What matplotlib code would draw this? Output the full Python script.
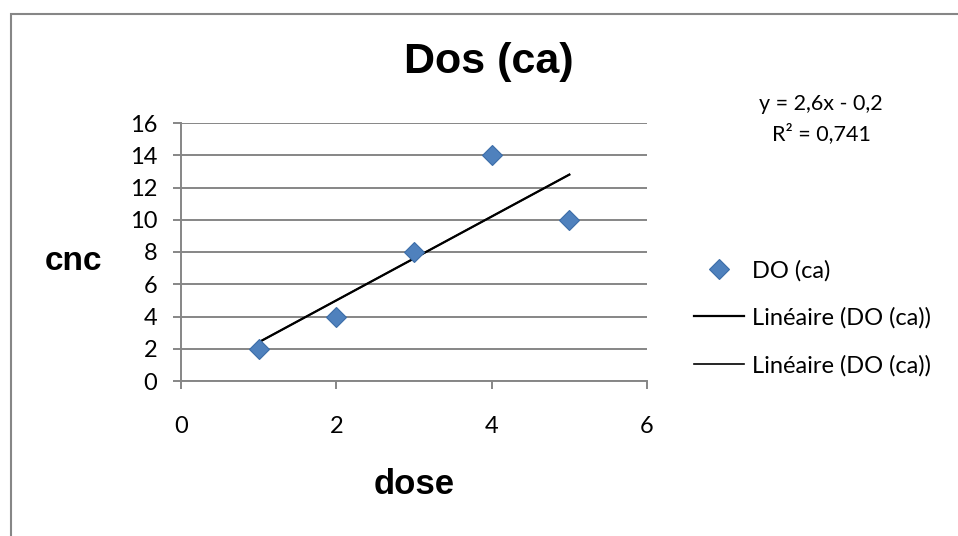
import matplotlib
matplotlib.use("Agg")
import matplotlib.pyplot as plt
import numpy as np
from matplotlib.patches import Rectangle
from matplotlib.lines import Line2D

# data
dose = [1, 2, 3, 4, 5]
cnc = [2, 4, 8, 14, 10]
slope, intercept = 2.6, -0.2
x_ticks = [0, 2, 4, 6]
y_ticks = [0, 2, 4, 6, 8, 10, 12, 14, 16]

body = ["Lato", "DejaVu Sans"]
bold = ["Liberation Sans", "DejaVu Sans"]
plt.rcParams["font.family"] = body

fig = plt.figure(figsize=(9.58, 5.36), dpi=100)

# outer chart border
fig.patches.append(Rectangle((10.5 / 958, -0.1), 1.2, 1.1 - 13.5 / 536,
                             transform=fig.transFigure, fill=False,
                             edgecolor="#868686", linewidth=1.5))

ax = fig.add_axes([181 / 958, 1 - 381 / 536, 466 / 958, 258 / 536])

ax.set_xlim(0, 6)
ax.set_ylim(0, 16)
ax.set_xticks(x_ticks)
ax.set_yticks(y_ticks)
ax.yaxis.grid(True, color="#868686", linewidth=1.4)
ax.set_axisbelow(True)
for s in ["top", "right"]:
    ax.spines[s].set_visible(False)
for s in ["left", "bottom"]:
    ax.spines[s].set_color("#868686")
    ax.spines[s].set_linewidth(1.4)
ax.tick_params(axis="both", colors="#868686", length=6, width=1.4,
               labelcolor="black", labelsize=17)
ax.tick_params(axis="x", pad=19)
ax.tick_params(axis="y", pad=11)

xs = np.array([min(dose), max(dose)])
ax.plot(xs, slope * xs + intercept, color="black", linewidth=1.6, zorder=2)
ax.plot(xs, slope * xs + intercept, color="black", linewidth=1.2, zorder=2)
ax.plot(dose, cnc, linestyle="none", marker="D", markersize=10,
        markerfacecolor="#4F81BD", markeredgecolor="#3C6DA8",
        markeredgewidth=0.8, zorder=3, clip_on=False)

fig.text(489 / 958, 1 - 62 / 536, "Dos (ca)", ha="center", va="center",
         fontsize=31, fontweight="bold", family=bold)
fig.text(74 / 958, 1 - 262 / 536, "cnc", ha="center", va="center",
         fontsize=24, fontweight="bold", family=bold)
fig.text(414 / 958, 1 - 485 / 536, "dose", ha="center", va="center",
         fontsize=25, fontweight="bold", family=bold)

fig.text(821 / 958, 1 - 104 / 536, "y = 2,6x - 0,2", ha="center",
         va="center", fontsize=15.5)
fig.text(821 / 958, 1 - 134 / 536, "R² = 0,741", ha="center",
         va="center", fontsize=15.5)

handles = [
    Line2D([], [], linestyle="none", marker="D", markersize=10,
           markerfacecolor="#4F81BD", markeredgecolor="#3C6DA8",
           markeredgewidth=0.8),
    Line2D([], [], color="black", linewidth=1.6),
    Line2D([], [], color="black", linewidth=1.2),
]
labels = ["DO (ca)", "Linéaire (DO (ca))", "Linéaire (DO (ca))"]
fig.legend(handles, labels, loc="center left",
           bbox_to_anchor=(694 / 958, 1 - 318 / 536), frameon=False,
           fontsize=17, handlelength=2.1, handletextpad=0.34,
           labelspacing=1.1, borderpad=0, borderaxespad=0)

fig.savefig("out.png", dpi=100)
